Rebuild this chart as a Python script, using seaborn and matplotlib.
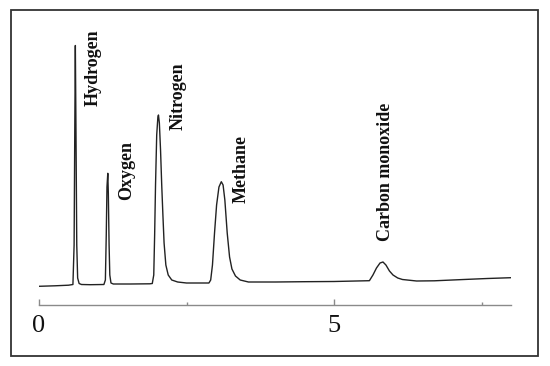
import matplotlib
matplotlib.use("Agg")
import matplotlib.pyplot as plt
import seaborn as sns
import pandas as pd
from matplotlib.patches import Rectangle

# Retention time (min) and detector signal (arbitrary units)
time_min = [0.00, 0.27, 0.50, 0.575, 0.595, 0.607, 0.616, 0.626, 0.640, 0.655, 0.680, 0.72,
            0.87, 1.10, 1.125, 1.140, 1.152, 1.166, 1.175, 1.188, 1.200, 1.220, 1.26,
            1.55, 1.88, 1.92, 1.945, 1.960, 1.975, 1.995, 2.015, 2.025, 2.040, 2.060,
            2.080, 2.100, 2.120, 2.150, 2.190, 2.250, 2.350, 2.500,
            2.88, 2.91, 2.94, 2.975, 3.010, 3.050, 3.090, 3.120, 3.150, 3.190, 3.230,
            3.270, 3.330, 3.410, 3.550, 3.75, 4.01, 4.50, 5.00,
            5.60, 5.66, 5.72, 5.78, 5.83, 5.88, 5.94, 6.00, 6.08, 6.16, 6.40, 6.70,
            7.20, 7.60, 8.00]
signal = [18.7, 19.2, 19.8, 20.5, 60.0, 180.0, 259.5, 180.0, 60.0, 27.0, 21.5, 20.5,
          20.3, 20.5, 25.0, 70.0, 118.0, 131.7, 112.0, 60.0, 30.0, 22.0, 21.0,
          21.0, 21.2, 21.5, 30.0, 70.0, 120.0, 170.0, 188.0, 190.0, 182.0, 155.0,
          120.0, 90.0, 62.0, 40.0, 30.0, 25.0, 23.0, 22.0,
          22.0, 25.0, 40.0, 72.0, 100.0, 118.0, 123.3, 120.0, 105.0, 72.0, 48.0,
          36.0, 29.0, 25.0, 23.0, 23.0, 23.0, 23.3, 23.5,
          24.3, 30.0, 37.0, 42.0, 43.0, 40.0, 34.0, 30.0, 27.0, 25.5, 24.0, 24.2,
          25.5, 26.5, 27.3]

# Peak labels and their anchor positions (time, signal at label start)
peak_names = ["Hydrogen", "Oxygen", "Nitrogen", "Methane", "Carbon monoxide"]
label_time = [0.92, 1.48, 2.36, 3.43, 5.87]
label_signal = [199, 105, 175, 102, 64]

x_ticks = [0, 5]
x_tick_labels = ["0", "5"]
x_minor_ticks = [2.5, 7.5]

sns.set_style("white")
plt.rcParams["font.family"] = ["Liberation Serif", "DejaVu Serif"]

fig = plt.figure(figsize=(5.5, 3.66), dpi=100)
ax = fig.add_axes([39 / 550, 61 / 366, 472 / 550, 285 / 366])

df = pd.DataFrame({"time": time_min, "signal": signal})
sns.lineplot(data=df, x="time", y="signal", ax=ax, color="#222222", lw=1.0,
             sort=False, estimator=None)

for name, tx, ty in zip(peak_names, label_time, label_signal):
    ax.text(tx, ty, name, rotation=90, ha="center", va="bottom",
            fontsize=13, fontweight="bold", color="#111111")

ax.set_xlim(0, 8)
ax.set_ylim(0, 285)
ax.set_xlabel("")
ax.set_ylabel("")
ax.set_yticks([])
ax.set_xticks(x_ticks)
ax.set_xticklabels(x_tick_labels)
ax.set_xticks(x_minor_ticks, minor=True)
for side in ["left", "top", "right"]:
    ax.spines[side].set_visible(False)
ax.spines["bottom"].set_color("#8a8a8a")
ax.spines["bottom"].set_linewidth(1.0)
ax.tick_params(axis="x", which="major", direction="in", length=4, width=1,
               color="#8a8a8a", labelsize=19, pad=7, labelcolor="#111111", bottom=True)
ax.tick_params(axis="x", which="minor", direction="in", length=2, width=1,
               color="#8a8a8a", bottom=True)
ax.patch.set_alpha(0)

fig.patches.append(Rectangle((11 / 550, 10 / 366), 527 / 550, 346 / 366,
                             transform=fig.transFigure, fill=False,
                             edgecolor="#333333", lw=1.3))

fig.savefig("out.png", dpi=100, facecolor="white")
